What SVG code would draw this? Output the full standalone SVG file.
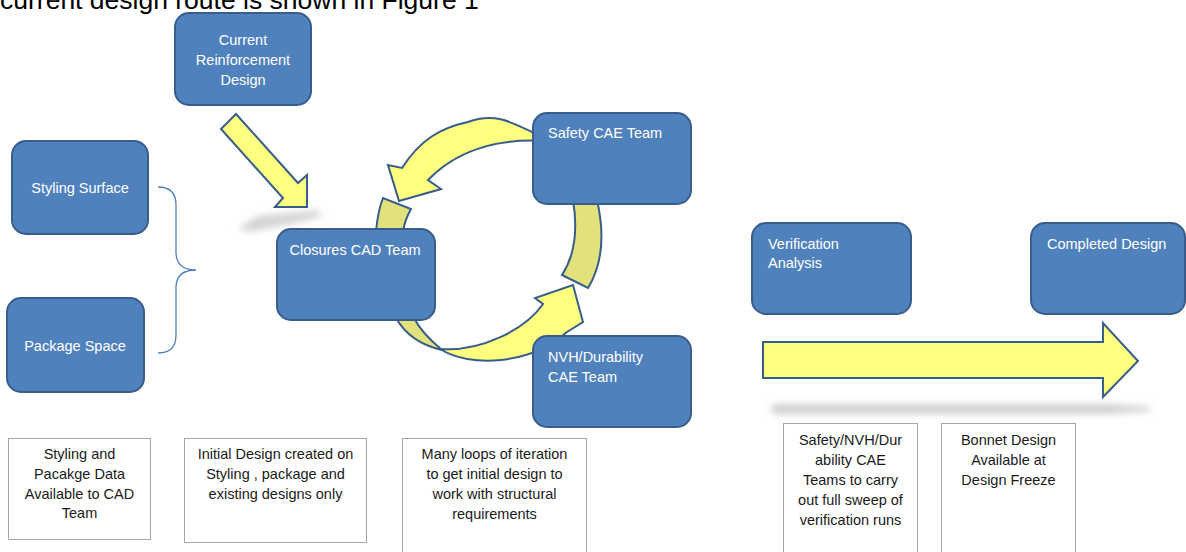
<svg xmlns="http://www.w3.org/2000/svg" width="1186" height="552" viewBox="0 0 1186 552">
<defs>
<style>
.node{fill:#4F81BD;stroke:#385D8A;stroke-width:2}
.nt{font-family:"Liberation Sans",Arial,sans-serif;font-size:14.5px;fill:#FFFFFF}
.note{fill:#FFFFFF;stroke:#A6A6A6;stroke-width:1}
.bt{font-family:"Liberation Sans",Arial,sans-serif;font-size:14.5px;fill:#1A1A1A;text-anchor:middle}
.arr{fill:#FFFF80;stroke:#385D8A;stroke-width:2;stroke-linejoin:miter}
.back{fill:#E2E27D;stroke:#385D8A;stroke-width:2}
.mid{text-anchor:middle}
</style>
<filter id="blur" x="-20%" y="-100%" width="140%" height="300%"><feGaussianBlur stdDeviation="3.5"/></filter>
</defs>
<rect width="1186" height="552" fill="#FFFFFF"/>
<text x="0" y="9" font-family="Liberation Sans,Arial,sans-serif" font-size="26.5" fill="#000000">current design route is shown in Figure 1</text>

<g id="shadows">
<polygon points="238,228 258,216 318,210 322,216 300,222 250,232" fill="#D4D4D4" filter="url(#blur)"/>
<path d="M772,404 L1105,404 L1150,407 L1150,411 L1105,414 L772,414 Z" fill="#CFCFCF" filter="url(#blur)"/>
</g>

<g id="connectors">
<path d="M158,187 Q176,187 176,205 L176,252 Q176,270 196,270 Q176,270 176,288 L176,335 Q176,353 158,353" fill="none" stroke="#4F81BD" stroke-width="1.3"/>
<polygon class="arr" points="236,114 298,183 307,175 307,207 275,207 283,198 221,129"/>
<path class="back" d="M573,200 C578,230 575,255 562,275 L588,288 C602,265 605,235 597,200 Z"/>
<path class="back" d="M376,232 C377,220 379,208 383,198 L411,209 C407,216 404,224 403,232 Z"/>
<path class="back" d="M396,318 C405,334 420,345 442,350 C430,340 420,330 414,318 Z"/>
<path class="arr" d="M545,138 C520,128 500,110 468,122 C440,128 420,140 402,168 L388,165 L399,201 L441,189 L428,180 C455,152 495,138 545,141 Z"/>
<path class="arr" d="M440,349 C470,368 530,365 567,332 L583,322 L573,285 L535,298 L543,304 C525,330 480,352 440,349 Z"/>
<polygon class="arr" points="763,342 1103,342 1103,323 1138,361 1103,397 1103,378 763,378"/>
</g>

<g id="n-current"><rect class="node" x="175" y="13" width="136" height="92" rx="14"/>
<text class="nt mid" x="243" y="45">Current</text><text class="nt mid" x="243" y="65">Reinforcement</text><text class="nt mid" x="243" y="85">Design</text></g>
<g id="n-styling"><rect class="node" x="12" y="141" width="136" height="93" rx="14"/>
<text class="nt mid" x="80" y="193">Styling Surface</text></g>
<g id="n-package"><rect class="node" x="7" y="298" width="137" height="94" rx="14"/>
<text class="nt mid" x="75" y="351">Package Space</text></g>
<g id="n-closures"><rect class="node" x="277" y="229" width="158" height="91" rx="14"/>
<text class="nt mid" x="355" y="255">Closures CAD Team</text></g>
<g id="n-safety"><rect class="node" x="533" y="113" width="158" height="91" rx="14"/>
<text class="nt" x="548" y="138">Safety CAE Team</text></g>
<g id="n-nvh"><rect class="node" x="533" y="336" width="158" height="91" rx="14"/>
<text class="nt" x="548" y="362">NVH/Durability</text><text class="nt" x="548" y="382">CAE Team</text></g>
<g id="n-verification"><rect class="node" x="752" y="223" width="159" height="91" rx="14"/>
<text class="nt" x="768" y="249">Verification</text><text class="nt" x="768" y="268">Analysis</text></g>
<g id="n-completed"><rect class="node" x="1031" y="223" width="154" height="91" rx="14"/>
<text class="nt" x="1047" y="249">Completed Design</text></g>

<g id="note1"><rect class="note" x="8.5" y="438.5" width="142" height="101"/>
<text class="bt" x="79.5" y="459">Styling and</text><text class="bt" x="79.5" y="479">Pacakge Data</text><text class="bt" x="79.5" y="499">Available to CAD</text><text class="bt" x="79.5" y="518">Team</text></g>
<g id="note2"><rect class="note" x="184.5" y="438.5" width="182" height="104"/>
<text class="bt" x="275.5" y="459">Initial Design created on</text><text class="bt" x="275.5" y="479">Styling , package and</text><text class="bt" x="275.5" y="499">existing designs only</text></g>
<g id="note3"><rect class="note" x="402.5" y="438.5" width="184" height="120"/>
<text class="bt" x="494.5" y="459">Many loops of iteration</text><text class="bt" x="494.5" y="479">to get initial design to</text><text class="bt" x="494.5" y="499">work with structural</text><text class="bt" x="494.5" y="519">requirements</text></g>
<g id="note4"><rect class="note" x="783.5" y="423.5" width="134" height="135"/>
<text class="bt" x="850.5" y="445">Safety/NVH/Dur</text><text class="bt" x="850.5" y="465">ability CAE</text><text class="bt" x="850.5" y="485">Teams to carry</text><text class="bt" x="850.5" y="505">out full sweep of</text><text class="bt" x="850.5" y="525">verification runs</text></g>
<g id="note5"><rect class="note" x="941.5" y="423.5" width="134" height="135"/>
<text class="bt" x="1008.5" y="445">Bonnet Design</text><text class="bt" x="1008.5" y="465">Available at</text><text class="bt" x="1008.5" y="485">Design Freeze</text></g>
</svg>
